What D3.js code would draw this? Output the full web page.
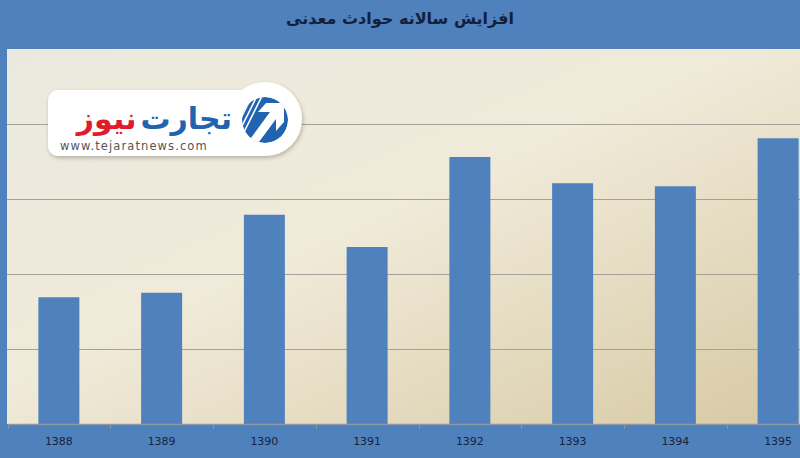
<!DOCTYPE html>
<html><head><meta charset="utf-8">
<script src="https://cdn.jsdelivr.net/npm/d3@7"></script>
<style>html,body{margin:0;padding:0;background:#4f81bd;}svg{display:block;}</style>
</head><body>
<script>
const title = "افزایش سالانه حوادث معدنی";
const categories = ["1388","1389","1390","1391","1392","1393","1394","1395"];
const values = [169, 175, 279, 236, 356, 321, 317, 381];
const yTicks = [0, 100, 200, 300, 400, 500];

const W = 800, H = 458;
const svg = d3.select("body").append("svg").attr("width", W).attr("height", H);
const plot = {left: 7.5, top: 49, width: 822, bottom: 424};

const defs = svg.append("defs");
const g1 = defs.append("linearGradient").attr("id","bg").attr("x1","0").attr("y1","0").attr("x2","1").attr("y2","1");
g1.append("stop").attr("offset","0").attr("stop-color","#ebe9df");
g1.append("stop").attr("offset","0.45").attr("stop-color","#f0ead9");
g1.append("stop").attr("offset","1").attr("stop-color","#d6c8a2");

svg.append("rect").attr("width",W).attr("height",H).attr("fill","#4f81bd");

svg.append("text").attr("x",400).attr("y",24).attr("text-anchor","middle")
  .attr("font-family","DejaVu Sans, sans-serif").attr("font-weight","bold").attr("font-size",16)
  .attr("fill","#13203a").attr("direction","rtl").text(title);

const xb = d3.scaleBand().domain(categories).range([plot.left, plot.left+plot.width]);
const y = d3.scaleLinear().domain([0,500]).range([plot.bottom, plot.top]);

svg.append("rect").attr("x",7).attr("y",plot.top).attr("width",plot.width).attr("height",plot.bottom-plot.top).attr("fill","url(#bg)");

svg.append("g").selectAll("line").data(yTicks.slice(1,-1)).join("line")
  .attr("x1",7).attr("x2",plot.left+plot.width)
  .attr("y1",d=>Math.round(y(d))+0.5).attr("y2",d=>Math.round(y(d))+0.5)
  .attr("stroke","#a5a198").attr("stroke-width",1);

// logo watermark
const logo = svg.append("g");
const f = defs.append("filter").attr("id","sh").attr("x","-20%").attr("y","-20%").attr("width","140%").attr("height","140%");
f.append("feDropShadow").attr("dx",1).attr("dy",2).attr("stdDeviation",2).attr("flood-color","#000").attr("flood-opacity",0.25);
const lg = logo.append("g").attr("filter","url(#sh)");
lg.append("rect").attr("x",48).attr("y",90).attr("width",222).attr("height",66).attr("rx",10).attr("fill","#ffffff");
lg.append("circle").attr("cx",265).attr("cy",119).attr("r",37).attr("fill","#ffffff");
const clip = defs.append("clipPath").attr("id","ic");
clip.append("circle").attr("cx",265).attr("cy",120).attr("r",23);
const ic = logo.append("g").attr("clip-path","url(#ic)");
ic.append("circle").attr("cx",265).attr("cy",120).attr("r",23).attr("fill","#2163ae");
for (let i=-6;i<=-1;i++){
  ic.append("line").attr("x1",240+i*5).attr("y1",150).attr("x2",270+i*5).attr("y2",90)
    .attr("stroke","#ffffff").attr("stroke-width",1.6);
}
ic.append("path").attr("d","M248,142 L270,112 L258,112 L266,103 L284,103 L284,122 L276,131 L276,119 L256,146 Z").attr("fill","#ffffff");
const t1 = logo.append("text").attr("x",232).attr("y",129).attr("text-anchor","end")
  .attr("font-family","DejaVu Sans, sans-serif").attr("font-weight","bold").attr("font-size",30).attr("fill","#2163ae").text("تجارت");
const w1 = t1.node().getComputedTextLength();
logo.append("text").attr("x",232 - w1 - 4).attr("y",129).attr("text-anchor","end")
  .attr("font-family","DejaVu Sans, sans-serif").attr("font-weight","bold").attr("font-size",30).attr("fill","#e21b2a").text("نیوز");
logo.append("text").attr("x",60).attr("y",150)
  .attr("font-family","DejaVu Sans, sans-serif").attr("font-size",11.5).attr("letter-spacing",1.1).attr("fill","#555555").text("www.tejaratnews.com");

// bars
svg.append("g").selectAll("rect").data(categories).join("rect")
  .attr("x",(d)=>xb(d)+xb.bandwidth()/2-20.5).attr("width",41)
  .attr("y",(d,i)=>y(values[i])).attr("height",(d,i)=>plot.bottom-y(values[i]))
  .attr("fill","#4f81bd");

// axis
const ax = svg.append("g").attr("transform",`translate(0,${plot.bottom})`)
  .call(d3.axisBottom(xb).tickSize(0).tickPadding(12));
ax.select(".domain").attr("stroke","#8c97a8").attr("stroke-width",1.5);
ax.selectAll("text").attr("font-family","DejaVu Sans, sans-serif").attr("font-size",11).attr("fill","#18233c").attr("dy","0.8em");
svg.append("g").selectAll("line").data(categories).join("line")
  .attr("x1",d=>Math.round(xb(d))+0.5).attr("x2",d=>Math.round(xb(d))+0.5)
  .attr("y1",plot.bottom).attr("y2",plot.bottom+5).attr("stroke","#8c97a8");
</script>
</body></html>
